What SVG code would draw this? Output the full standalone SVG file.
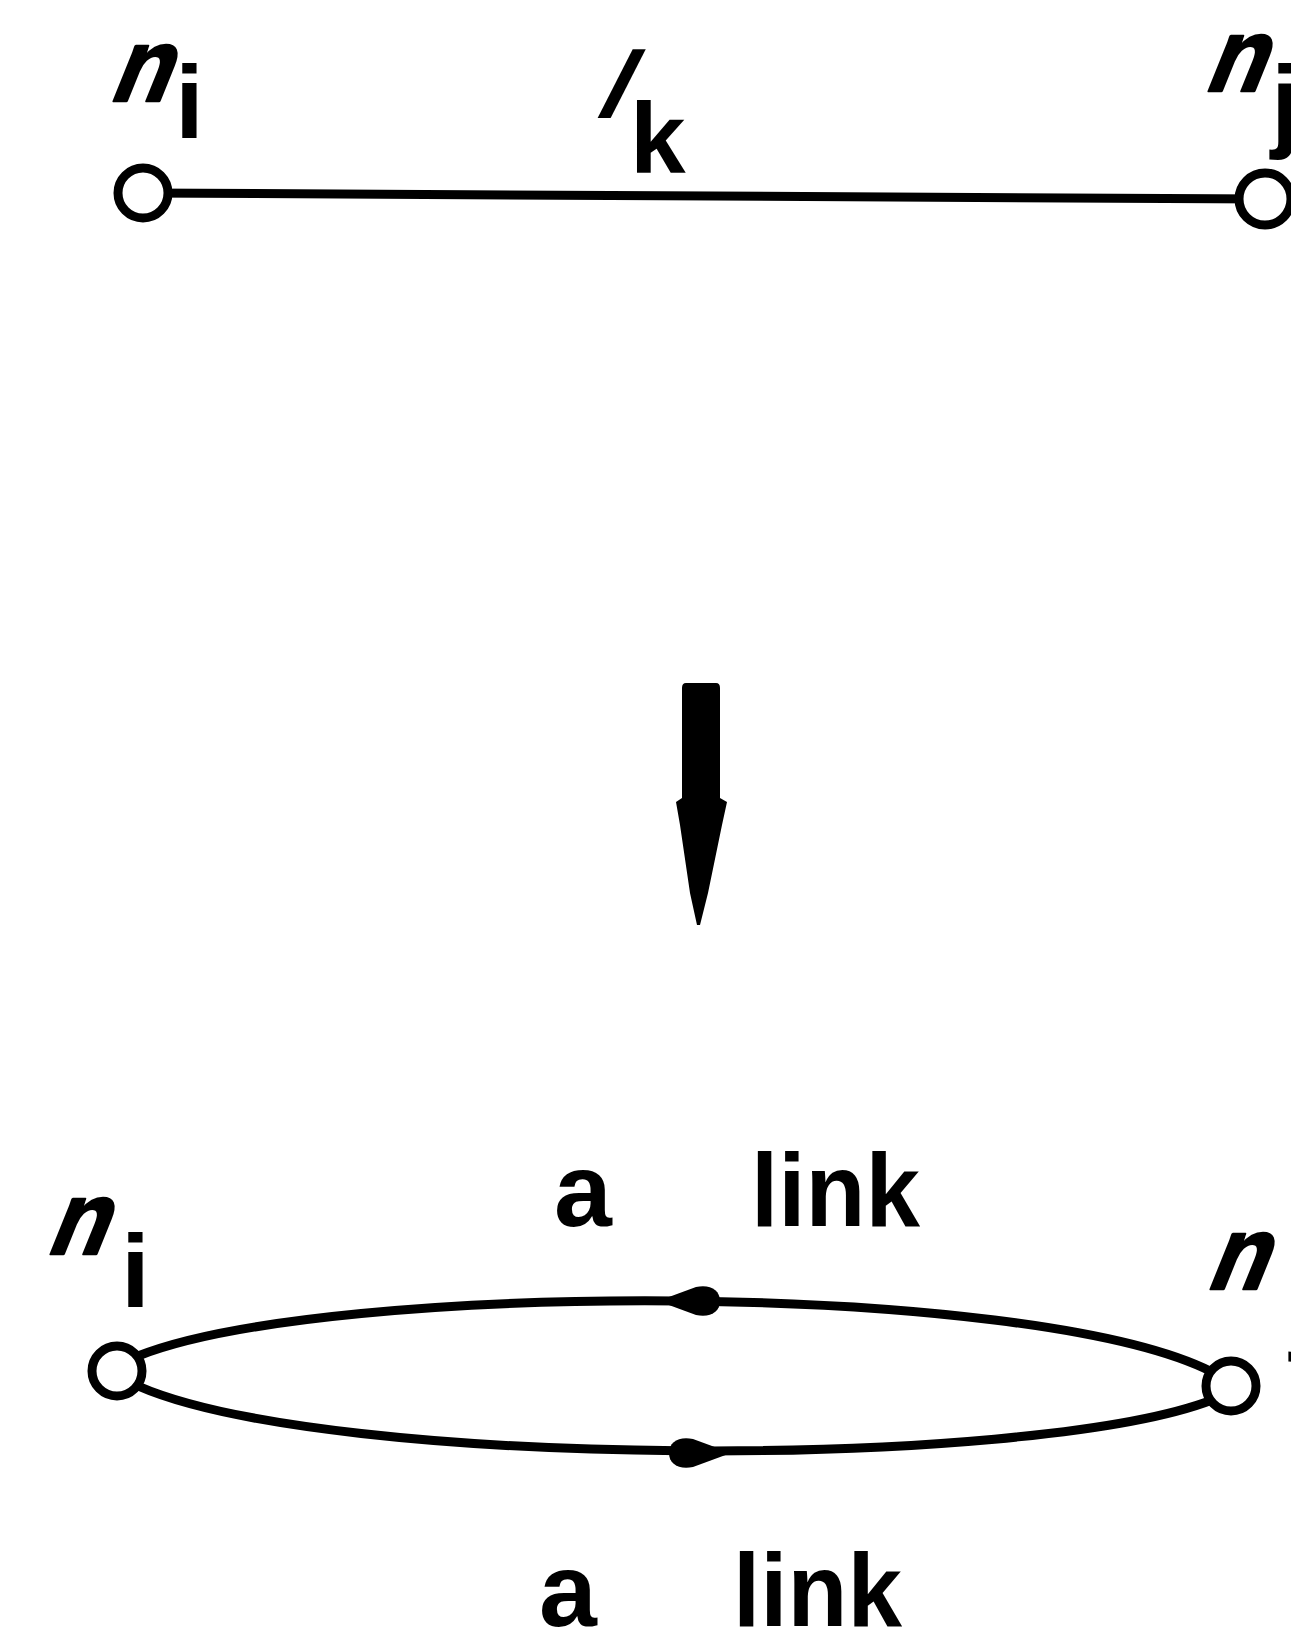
<svg xmlns="http://www.w3.org/2000/svg" xmlns:xlink="http://www.w3.org/1999/xlink" width="1291" height="1648" viewBox="0 0 1291 1648">
  <style>
    .lbl { font-family: "Liberation Sans", Arial, sans-serif; font-weight: bold; fill: #000; }
    .nlab { stroke: #000; stroke-width: 2.5; stroke-linejoin: round; }
    .node { fill: #fff; stroke: #000; stroke-width: 9; }
    .edge { fill: none; stroke: #000; stroke-width: 9; stroke-linecap: round; }
    .head { fill: #000; stroke: none; }
  </style>
  <defs>
    <path id="ahead" d="M0,0 L-38,-14 C-52,-17 -62,-11 -62,0 C-62,11 -52,17 -38,14 Z"/>
  </defs>
  <rect width="1291" height="1648" fill="#fff"/>

  <g id="connectors">
    <line class="edge" x1="143" y1="193" x2="1265" y2="199"/>
    <path class="edge" d="M138,1356 C330,1280 1030,1280 1212,1372"/>
    <path class="edge" d="M138,1386 C330,1470 1030,1470 1212,1400"/>
    <use class="head" xlink:href="#ahead" href="#ahead" transform="translate(658,1301) rotate(180)"/>
    <use class="head" xlink:href="#ahead" href="#ahead" transform="translate(731,1453)"/>
  </g>

  <g id="transform-arrow">
    <path class="head" d="M686,683 L716,683 Q720,683 720,688 L720,798 L727,802 L722,825 L708,893 L700,925 L697,925 L690,893 L680,825 L676,802 L682,798 L682,688 Q682,683 686,683 Z"/>
  </g>

  <g id="top-node-i">
    <circle class="node" cx="143" cy="193" r="25"/>
    <text class="lbl nlab" font-size="104" transform="translate(107,101) skewX(-22) scale(0.92,1)">n</text>
    <text class="lbl" font-size="104" x="175" y="138">i</text>
  </g>

  <g id="top-node-j">
    <circle class="node" cx="1265" cy="199" r="26"/>
    <text class="lbl nlab" font-size="104" transform="translate(1202,91) skewX(-22) scale(0.92,1)">n</text>
    <text class="lbl" font-size="104" x="1271" y="138">j</text>
  </g>

  <g id="top-link-label">
    <text class="lbl" font-size="95" transform="translate(591,118) skewX(-27)">l</text>
    <text class="lbl" font-size="100" x="630" y="173">k</text>
  </g>

  <g id="bottom-node-i">
    <circle class="node" cx="117" cy="1371" r="25"/>
    <text class="lbl nlab" font-size="104" transform="translate(44,1254) skewX(-22) scale(0.92,1)">n</text>
    <text class="lbl" font-size="104" x="121" y="1307">i</text>
  </g>

  <g id="bottom-node-j">
    <circle class="node" cx="1231" cy="1386" r="25"/>
    <text class="lbl nlab" font-size="104" transform="translate(1204,1289) skewX(-22) scale(0.92,1)">n</text>
    <text class="lbl" font-size="104" x="1290" y="1340">j</text>
  </g>

  <g id="upper-label">
    <text class="lbl" font-size="104" x="554" y="1226">a</text>
    <text class="lbl" font-size="104" x="751" y="1226" textLength="169" lengthAdjust="spacingAndGlyphs">link</text>
  </g>

  <g id="lower-label">
    <text class="lbl" font-size="104" x="539" y="1626">a</text>
    <text class="lbl" font-size="104" x="733" y="1626" textLength="169" lengthAdjust="spacingAndGlyphs">link</text>
  </g>
</svg>
